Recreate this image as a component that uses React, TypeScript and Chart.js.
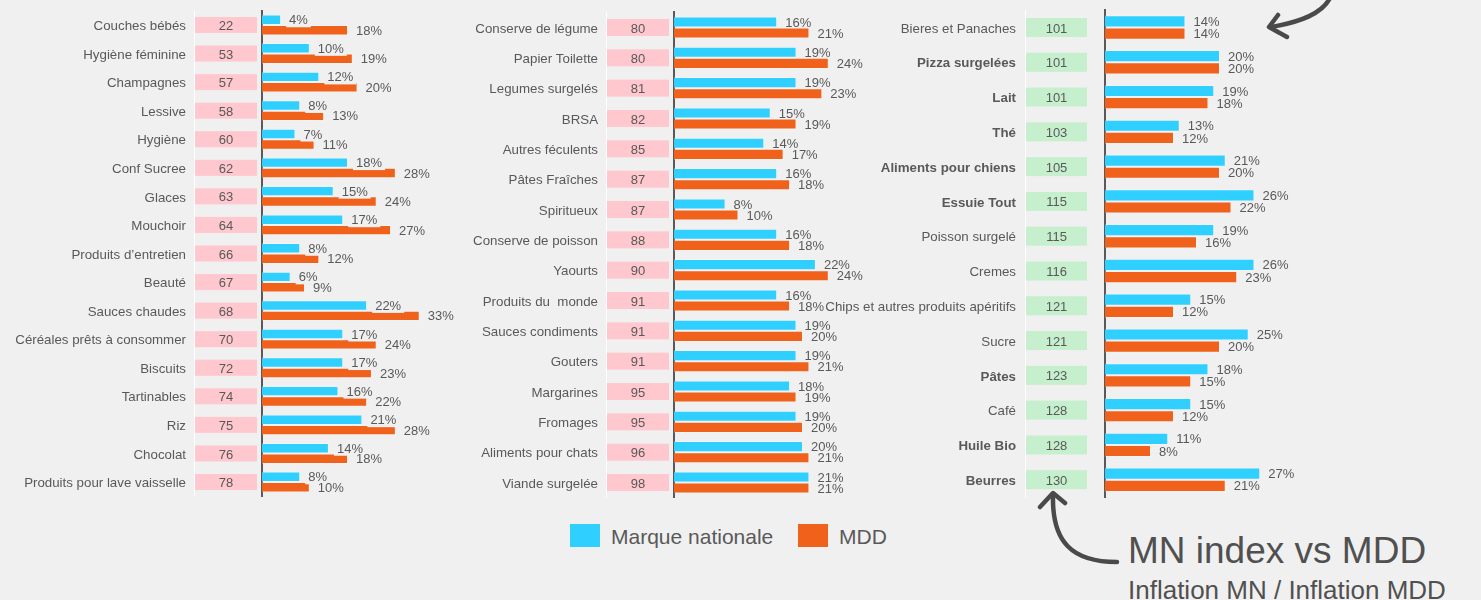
import React, { useEffect, useRef } from "react";
import { Chart, registerables } from "chart.js";

Chart.register(...registerables);

// ---------- DATA ----------
const cats1 = ["Couches bébés", "Hygiène féminine", "Champagnes", "Lessive", "Hygiène", "Conf Sucree", "Glaces", "Mouchoir", "Produits d’entretien", "Beauté", "Sauces chaudes", "Céréales prêts à consommer", "Biscuits", "Tartinables", "Riz", "Chocolat", "Produits pour lave vaisselle"];
const index1 = [22, 53, 57, 58, 60, 62, 63, 64, 66, 67, 68, 70, 72, 74, 75, 76, 78];
const mn1 = [4, 10, 12, 8, 7, 18, 15, 17, 8, 6, 22, 17, 17, 16, 21, 14, 8];
const mdd1 = [18, 19, 20, 13, 11, 28, 24, 27, 12, 9, 33, 24, 23, 22, 28, 18, 10];

const cats2 = ["Conserve de légume", "Papier Toilette", "Legumes surgelés", "BRSA", "Autres féculents", "Pâtes Fraîches", "Spiritueux", "Conserve de poisson", "Yaourts", "Produits du  monde", "Sauces condiments", "Gouters", "Margarines", "Fromages", "Aliments pour chats", "Viande surgelée"];
const index2 = [80, 80, 81, 82, 85, 87, 87, 88, 90, 91, 91, 91, 95, 95, 96, 98];
const mn2 = [16, 19, 19, 15, 14, 16, 8, 16, 22, 16, 19, 19, 18, 19, 20, 21];
const mdd2 = [21, 24, 23, 19, 17, 18, 10, 18, 24, 18, 20, 21, 19, 20, 21, 21];

const cats3 = ["Bieres et Panaches", "Pizza surgelées", "Lait", "Thé", "Aliments pour chiens", "Essuie Tout", "Poisson surgelé", "Cremes", "Chips et autres produits apéritifs", "Sucre", "Pâtes", "Café", "Huile Bio", "Beurres"];
const bold3 = [false, true, true, true, true, true, false, false, false, false, true, false, true, true];
const index3 = [101, 101, 101, 103, 105, 115, 115, 116, 121, 121, 123, 128, 128, 130];
const mn3 = [14, 20, 19, 13, 21, 26, 19, 26, 15, 25, 18, 15, 11, 27];
const mdd3 = [14, 20, 18, 12, 20, 22, 16, 23, 12, 20, 15, 12, 8, 21];

const seriesNames = ["Marque nationale", "MDD"];
const titleText = "MN index vs MDD";
const subtitleText = "Inflation MN / Inflation MDD";

// ---------- STYLE ----------
const BG = "#f0f0f0";
const BLUE = "#2fd0ff";
const ORANGE = "#f0611b";
const TEXT = "#595959";
const FONT = 'Arial, "Liberation Sans", sans-serif';
const PINK = "#ffc7ce";
const GREEN = "#c6efce";
const H = 510;
const TY = 1.5; // text vertical nudge

type PanelCfg = {
  cats: string[];
  index: number[];
  mn: number[];
  mdd: number[];
  bold?: boolean[];
  left: number;
  width: number;
  padLeft: number;
  padRight: number;
  padTop: number;
  padBottom: number;
  max: number;
  catPct: number;
  boxColor: string;
  boxOff: number;
  boxW: number;
  boxH: number;
  labelOff: number;
  labelBg: boolean;
};

const panels: PanelCfg[] = [
  {
    cats: cats1, index: index1, mn: mn1, mdd: mdd1,
    left: 0, width: 470, padLeft: 262, padRight: 0, padTop: 10.7, padBottom: H - 496.3,
    max: 208 / 4.78, catPct: 0.73, boxColor: PINK, boxOff: 5, boxW: 62, boxH: 16, labelOff: 76, labelBg: true,
  },
  {
    cats: cats2, index: index2, mn: mn2, mdd: mdd2,
    left: 470, width: 400, padLeft: 204, padRight: 0, padTop: 12.3, padBottom: H - 497.7,
    max: 196 / 6.45, catPct: 0.73, boxColor: PINK, boxOff: 5, boxW: 62, boxH: 17, labelOff: 76, labelBg: false,
  },
  {
    cats: cats3, index: index3, mn: mn3, mdd: mdd3, bold: bold3,
    left: 800, width: 681, padLeft: 305, padRight: 146, padTop: 10.1, padBottom: H - 497.1,
    max: 40, catPct: 0.7, boxColor: GREEN, boxOff: 18, boxW: 61, boxH: 19, labelOff: 89, labelBg: false,
  },
];

function makeDecor(cfg: PanelCfg) {
  return {
    id: "decor",
    afterDatasetsDraw(chart: any) {
      const { ctx, chartArea } = chart;
      const yScale = chart.scales.y;
      const ax = chartArea.left;
      const boxLeft = ax - cfg.boxOff - cfg.boxW;
      ctx.save();
      // white separator line
      ctx.strokeStyle = "#ffffff";
      ctx.lineWidth = 1;
      ctx.beginPath();
      ctx.moveTo(Math.round(boxLeft) - 0.5, chartArea.top);
      ctx.lineTo(Math.round(boxLeft) - 0.5, chartArea.bottom);
      ctx.stroke();

      ctx.textBaseline = "middle";
      cfg.cats.forEach((c, i) => {
        const yy = yScale.getPixelForValue(i);
        ctx.fillStyle = cfg.boxColor;
        ctx.fillRect(boxLeft, yy - cfg.boxH / 2, cfg.boxW, cfg.boxH);
        ctx.fillStyle = TEXT;
        ctx.font = `13px ${FONT}`;
        ctx.textAlign = "center";
        ctx.fillText(String(cfg.index[i]), boxLeft + cfg.boxW / 2, yy + TY);
        ctx.textAlign = "right";
        ctx.font = `${cfg.bold && cfg.bold[i] ? "bold " : ""}13.3px ${FONT}`;
        ctx.fillText(c, ax - cfg.labelOff, yy + TY);
      });

      ctx.font = `13px ${FONT}`;
      ctx.textAlign = "left";
      chart.data.datasets.forEach((ds: any, di: number) => {
        const meta = chart.getDatasetMeta(di);
        meta.data.forEach((bar: any, i: number) => {
          const text = Math.round(ds.data[i]) + "%";
          const x = bar.x + 8;
          const y = bar.y;
          if (cfg.labelBg && di === 0) {
            const w = ctx.measureText(text).width;
            ctx.fillStyle = BG;
            ctx.fillRect(x - 3, y - 7, w + 6, 14.5);
          }
          ctx.fillStyle = TEXT;
          ctx.fillText(text, x, y + TY - 0.5);
        });
      });
      ctx.restore();
    },
  };
}

function Panel({ cfg }: { cfg: PanelCfg }) {
  const ref = useRef<HTMLCanvasElement | null>(null);
  useEffect(() => {
    const chart = new Chart(ref.current as HTMLCanvasElement, {
      type: "bar",
      data: {
        labels: cfg.cats,
        datasets: [
          {
            label: seriesNames[0],
            data: cfg.mn,
            backgroundColor: BLUE,
            borderColor: "rgba(255,255,255,0.25)",
            borderWidth: 1,
            categoryPercentage: cfg.catPct,
            barPercentage: 1,
          },
          {
            label: seriesNames[1],
            data: cfg.mdd,
            backgroundColor: ORANGE,
            borderColor: "rgba(255,255,255,0.25)",
            borderWidth: 1,
            categoryPercentage: cfg.catPct,
            barPercentage: 1,
          },
        ],
      },
      options: {
        indexAxis: "y",
        responsive: false,
        maintainAspectRatio: false,
        animation: false,
        devicePixelRatio: 1,
        layout: { padding: { left: cfg.padLeft, right: cfg.padRight, top: cfg.padTop, bottom: cfg.padBottom } },
        scales: {
          x: { display: false, min: 0, max: cfg.max },
          y: {
            ticks: { display: false },
            grid: { display: false, drawTicks: false },
            border: { display: true, color: TEXT, width: 2 },
          },
        },
        plugins: { legend: { display: false }, tooltip: { enabled: false } },
      },
      plugins: [makeDecor(cfg)],
    } as any);
    return () => chart.destroy();
  }, [cfg]);
  return (
    <canvas
      ref={ref}
      width={cfg.width}
      height={H}
      style={{ position: "absolute", left: cfg.left, top: 0, width: cfg.width, height: H }}
    />
  );
}

export default function App() {
  const legendText: React.CSSProperties = {
    position: "absolute",
    font: `21px ${FONT}`,
    lineHeight: "21px",
    color: TEXT,
    whiteSpace: "nowrap",
    top: 525.5,
  };
  return (
    <div
      style={{
        position: "fixed",
        left: 0,
        top: 0,
        width: 1481,
        height: 600,
        background: BG,
        overflow: "hidden",
      }}
    >
      {panels.map((p, i) => (
        <Panel key={i} cfg={p} />
      ))}
      <div style={{ position: "absolute", left: 570, top: 524, width: 30, height: 23, background: BLUE }} />
      <div style={{ ...legendText, left: 611 }}>{seriesNames[0]}</div>
      <div style={{ position: "absolute", left: 798, top: 524, width: 30, height: 23, background: ORANGE }} />
      <div style={{ ...legendText, left: 839 }}>{seriesNames[1]}</div>

      <div
        style={{
          position: "absolute",
          left: 1128,
          top: 532,
          font: `37px ${FONT}`,
          lineHeight: "37px",
          color: "#505050",
          whiteSpace: "nowrap",
        }}
      >
        {titleText}
      </div>
      <div
        style={{
          position: "absolute",
          left: 1128,
          top: 576.6,
          font: `26px ${FONT}`,
          lineHeight: "26px",
          color: "#505050",
          whiteSpace: "nowrap",
        }}
      >
        {subtitleText}
      </div>
      <svg
        width={1481}
        height={600}
        style={{ position: "absolute", left: 0, top: 0, pointerEvents: "none" }}
      >
        <g fill="none" stroke="#4a4a4a" strokeWidth={4.5} strokeLinecap="round" strokeLinejoin="round">
          <path d="M1117 562 C1072 562 1052 542 1053 496" />
          <path d="M1040 507 L1053 493 L1065 503" />
          <path d="M1330 -2 C1322 14 1300 22 1271 27" />
          <path d="M1278 15 L1269 27 L1287 37" />
        </g>
      </svg>
    </div>
  );
}
